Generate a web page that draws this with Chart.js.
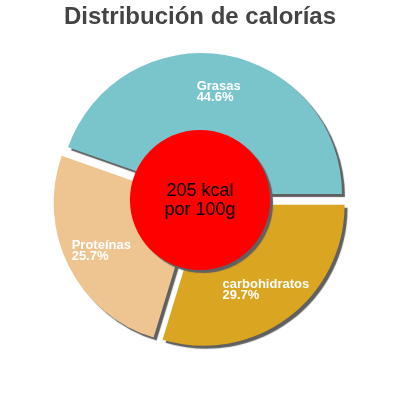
<!DOCTYPE html>
<html><head><meta charset="utf-8">
<style>html,body{margin:0;padding:0;background:#fff}#wrap{width:400px;height:400px}</style>
<script src="https://cdn.jsdelivr.net/npm/chart.js@4.4.1/dist/chart.umd.min.js"></script>
</head><body><div id="wrap"><canvas id="c" width="400" height="400"></canvas></div>
<script>
const categories = ['carbohidratos', 'Proteínas', 'Grasas'];
const percentages = [29.7, 25.7, 44.6];
const sliceColors = ['#DAA520', '#EEC591', '#7AC4CC'];
const titleText = 'Distribución de calorías';
const centerLines = ['205 kcal', 'por 100g'];

const FONT = '"Liberation Sans", Arial, Helvetica, sans-serif';
const EXPLODE = 6;
const SHADOW = '#606060';

function setShadow(chart, ctx) {
  const dpr = chart.currentDevicePixelRatio || 1;
  ctx.shadowColor = SHADOW;
  ctx.shadowOffsetX = 3 * dpr;
  ctx.shadowOffsetY = 3 * dpr;
  ctx.shadowBlur = 1 * dpr;
}

const explodePlugin = {
  id: 'explode',
  beforeDatasetsDraw(chart) {
    const ca = chart.chartArea;
    const cx = (ca.left + ca.right) / 2, cy = (ca.top + ca.bottom) / 2;
    chart.getDatasetMeta(0).data.forEach(a => {
      const h = (a.startAngle + a.endAngle) / 2;
      a.x = cx + Math.cos(h) * EXPLODE;
      a.y = cy + Math.sin(h) * EXPLODE;
    });
  },
  beforeDatasetDraw(chart) {
    chart.ctx.save();
    setShadow(chart, chart.ctx);
  },
  afterDatasetDraw(chart) {
    chart.ctx.restore();
  }
};

const overlayPlugin = {
  id: 'overlay',
  afterDatasetsDraw(chart) {
    const ctx = chart.ctx;
    const ca = chart.chartArea;
    const cx = (ca.left + ca.right) / 2, cy = (ca.top + ca.bottom) / 2;
    const arcs = chart.getDatasetMeta(0).data;
    const R = arcs[0].outerRadius;
    // labels
    ctx.save();
    ctx.fillStyle = '#ffffff';
    ctx.font = 'bold 13px ' + FONT;
    ctx.textAlign = 'left';
    ctx.textBaseline = 'alphabetic';
    arcs.forEach((a, i) => {
      const h = (a.startAngle + a.endAngle) / 2;
      const r = a.outerRadius * 0.742;
      const ax = a.x + Math.cos(h) * r;
      const ay = a.y + Math.sin(h) * r;
      const lines = [categories[i], percentages[i].toFixed(1) + '%'];
      const w = Math.max(...lines.map(l => ctx.measureText(l).width));
      const left = ax - w / 2;
      ctx.fillText(lines[0], left, ay - 1.1);
      ctx.fillText(lines[1], left, ay + 10.4);
    });
    ctx.restore();
    // center circle
    ctx.save();
    setShadow(chart, ctx);
    ctx.fillStyle = '#ff0000';
    ctx.beginPath();
    ctx.arc(cx, cy, R * 0.497, 0, Math.PI * 2);
    ctx.fill();
    ctx.restore();
    ctx.save();
    ctx.fillStyle = '#000000';
    ctx.font = '18px ' + FONT;
    ctx.textAlign = 'center';
    ctx.textBaseline = 'alphabetic';
    ctx.fillText(centerLines[0], cx, cy - 4);
    ctx.fillText(centerLines[1], cx, cy + 14.5);
    ctx.restore();
  }
};

new Chart(document.getElementById('c'), {
  type: 'pie',
  data: {
    labels: categories,
    datasets: [{
      data: percentages,
      backgroundColor: sliceColors,
      borderWidth: 0,
      radius: 141
    }]
  },
  options: {
    responsive: false,
    animation: false,
    events: [],
    rotation: 90,
    layout: { padding: { top: 0, bottom: 31.8, left: 0, right: 0 } },
    plugins: {
      legend: { display: false },
      tooltip: { enabled: false },
      title: {
        display: true,
        text: titleText,
        color: '#444444',
        font: { family: FONT, size: 24, weight: 'bold' },
        padding: { top: 3, bottom: 0 }
      }
    }
  },
  plugins: [explodePlugin, overlayPlugin]
});
</script>
</body></html>
